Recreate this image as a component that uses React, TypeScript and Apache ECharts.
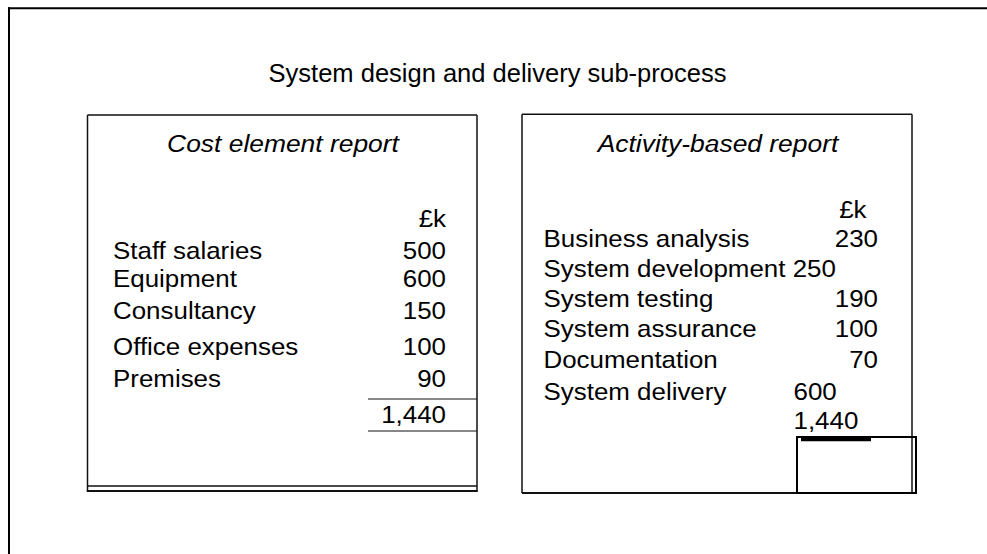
import React, { useEffect, useRef } from "react";
import * as echarts from "echarts";

// ---- content ----
const TITLE = "System design and delivery sub-process";
const LEFT_HEADING = "Cost element report";
const RIGHT_HEADING = "Activity-based report";
const UNIT = "£k";

const costElements = ["Staff salaries", "Equipment", "Consultancy", "Office expenses", "Premises"];
const costValues = [500, 600, 150, 100, 90];
const costTotal = [1440];

const activities = [
  "Business analysis",
  "System development",
  "System testing",
  "System assurance",
  "Documentation",
  "System delivery",
];
const activityValues = [230, 250, 190, 100, 70, 600];
const activityTotal = [1440];

// ---- layout (positions only) ----
const leftRowY = [250, 278.5, 310.5, 346, 378.5];
const leftUnitY = 218;
const leftTotalY = 414;
const rightRowY = [238, 268.7, 298.7, 328.3, 359, 391];
const rightUnitY = 209;
const rightTotalY = 420.5;
const rightValueMode = ["right", "inline", "right", "right", "right", "left"];

const FONT = "'Liberation Sans', Arial, Helvetica, sans-serif";
const fmt = (v: number) => v.toLocaleString("en-GB");

function txt(text: string, x: number, y: number, align: string, opts: any = {}) {
  return {
    type: "text",
    x,
    y,
    scaleX: opts.scaleX ?? 1.08,
    silent: true,
    style: {
      text,
      fill: "#000",
      fontSize: opts.fontSize ?? 24,
      fontFamily: FONT,
      fontStyle: opts.italic ? "italic" : "normal",
      align,
      textAlign: align,
      verticalAlign: "middle",
      textVerticalAlign: "middle",
    },
  };
}

function ln(x1: number, y1: number, x2: number, y2: number, w = 1.5, c = "#111") {
  return {
    type: "line",
    silent: true,
    shape: { x1, y1, x2, y2 },
    style: { stroke: c, lineWidth: w },
  };
}

export default function App() {
  const ref = useRef<HTMLDivElement>(null);
  useEffect(() => {
    if (!ref.current) return;
    const chart = echarts.init(ref.current, null, { renderer: "svg" });
    const g: any[] = [];
    // outer frame
    g.push(ln(8, 8.3, 987, 8.3, 2, "#000"));
    g.push(ln(9, 7.3, 9, 554, 2, "#000"));
    // title
    g.push(txt(TITLE, 497.5, 72.5, "center", { fontSize: 25.5, scaleX: 1 }));

    // left box
    const L = { x1: 87.5, x2: 477, y1: 115, y2: 491 };
    g.push(ln(L.x1, L.y1, L.x2, L.y1));
    g.push(ln(L.x1, L.y1, L.x1, L.y2));
    g.push(ln(L.x2, L.y1, L.x2, L.y2));
    g.push(ln(L.x1, 486, L.x2, 486));
    g.push(ln(L.x1 - 0.75, L.y2, L.x2 + 0.75, L.y2, 2));
    g.push(txt(LEFT_HEADING, 283, 143.5, "center", { italic: true, scaleX: 1.1 }));
    g.push(txt(UNIT, 446, leftUnitY, "right"));
    costElements.forEach((name, i) => {
      g.push(txt(name, 113, leftRowY[i], "left"));
      g.push(txt(fmt(costValues[i]), 446, leftRowY[i], "right"));
    });
    g.push(ln(368, 399, L.x2, 399, 1.2));
    g.push(txt(fmt(costTotal[0]), 446, leftTotalY, "right"));
    g.push(ln(368, 431, L.x2, 431, 1.2));

    // right box
    const R = { x1: 522, x2: 912, y1: 114.3, y2: 493 };
    g.push(ln(R.x1, R.y1, R.x2, R.y1));
    g.push(ln(R.x1, R.y1, R.x1, R.y2));
    g.push(ln(R.x2, R.y1, R.x2, R.y2));
    g.push(ln(R.x1, R.y2, R.x2, R.y2, 2));
    g.push(txt(RIGHT_HEADING, 718, 143.5, "center", { italic: true, scaleX: 1.1 }));
    g.push(txt(UNIT, 866.5, rightUnitY, "right"));
    activities.forEach((name, i) => {
      const mode = rightValueMode[i];
      const v = fmt(activityValues[i]);
      if (mode === "inline") {
        g.push(txt(name + " " + v, 543.5, rightRowY[i], "left"));
      } else {
        g.push(txt(name, 543.5, rightRowY[i], "left"));
        if (mode === "right") g.push(txt(v, 878, rightRowY[i], "right"));
        else g.push(txt(v, 793.5, rightRowY[i], "left"));
      }
    });
    g.push(txt(fmt(activityTotal[0]), 793.5, rightTotalY, "left"));
    // small rectangle and thick underline
    g.push({
      type: "rect",
      silent: true,
      shape: { x: 797, y: 437, width: 119, height: 56 },
      style: { fill: "none", stroke: "#000", lineWidth: 2 },
    });
    g.push(ln(801, 439.5, 871, 439.5, 3.5, "#000"));

    chart.setOption({
      animation: false,
      backgroundColor: "#fff",
      graphic: { elements: g },
    });
    return () => chart.dispose();
  }, []);
  return (
    <div
      ref={ref}
      style={{ position: "absolute", left: 0, top: 0, width: 987, height: 554 }}
    />
  );
}
